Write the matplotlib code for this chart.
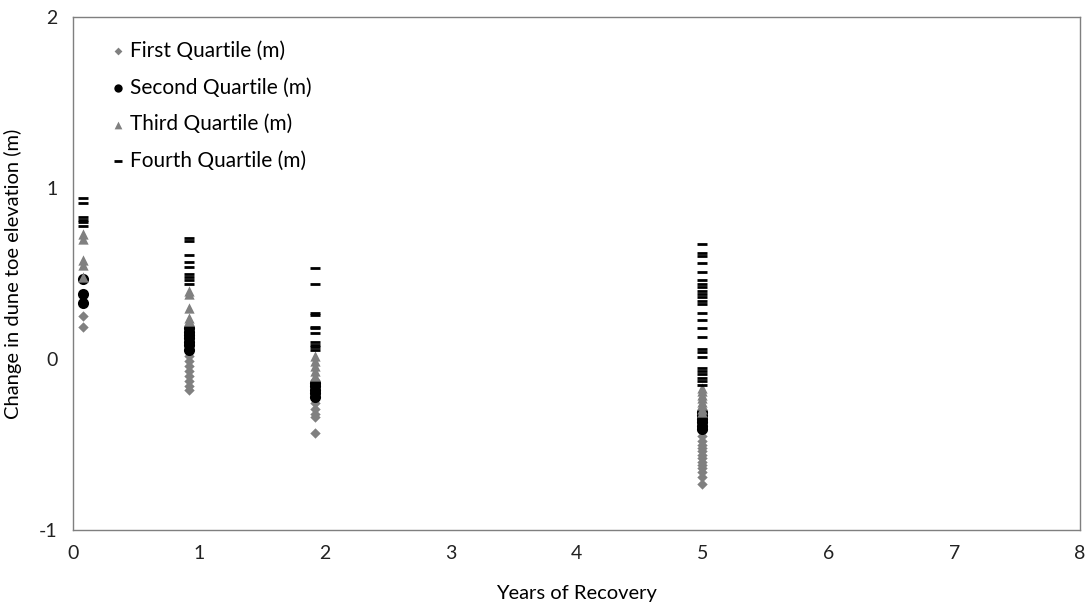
import matplotlib
matplotlib.use("Agg")
import matplotlib.pyplot as plt

plt.rcParams['font.family'] = ['Lato', 'DejaVu Sans']
plt.rcParams['axes.unicode_minus'] = False

# years of recovery for each survey
years = [0.08, 0.92, 1.92, 5.0]

# change in dune toe elevation (m), one list per survey
first_q = [
    [0.25, 0.19],
    [0.02, -0.01, -0.04, -0.07, -0.10, -0.13, -0.16, -0.18],
    [-0.26, -0.29, -0.32, -0.34, -0.43],
    [-0.42, -0.45, -0.48, -0.50, -0.52, -0.54, -0.56, -0.58, -0.60, -0.62,
     -0.64, -0.66, -0.69, -0.73],
]
second_q = [
    [0.47, 0.38, 0.33],
    [0.18, 0.16, 0.14, 0.12, 0.10, 0.08, 0.05],
    [-0.14, -0.16, -0.18, -0.20, -0.22],
    [-0.31, -0.33, -0.35, -0.37, -0.39, -0.41],
]
third_q = [
    [0.73, 0.70, 0.58, 0.55, 0.48],
    [0.40, 0.38, 0.30, 0.24, 0.22],
    [0.02, -0.01, -0.04, -0.07, -0.10],
    [-0.17, -0.19, -0.21, -0.23, -0.25, -0.27, -0.29, -0.31],
]
fourth_q = [
    [0.94, 0.91, 0.83, 0.81, 0.80, 0.78],
    [0.71, 0.69, 0.61, 0.57, 0.54, 0.50, 0.48, 0.46, 0.44],
    [0.53, 0.44, 0.27, 0.26, 0.19, 0.18, 0.15, 0.10, 0.08, 0.07, 0.05],
    [0.67, 0.62, 0.60, 0.56, 0.51, 0.46, 0.44, 0.42, 0.40, 0.38, 0.36, 0.34,
     0.32, 0.27, 0.23, 0.18, 0.13, 0.06, 0.04, 0.01, -0.05, -0.07, -0.09,
     -0.11, -0.13, -0.15],
]

labels = ['First Quartile (m)', 'Second Quartile (m)', 'Third Quartile (m)', 'Fourth Quartile (m)']


def flat(groups):
    xs, ys = [], []
    for x, g in zip(years, groups):
        xs += [x] * len(g)
        ys += g
    return xs, ys


fig = plt.figure(figsize=(10.89, 6.05), dpi=100)
ax = fig.add_axes([73 / 1089, 1 - 530 / 605, (1080 - 73) / 1089, (530 - 17) / 605])

x, y = flat(first_q)
ax.scatter(x, y, marker='D', s=28, color='#808080', linewidths=0, label=labels[0], zorder=3)
x, y = flat(second_q)
ax.scatter(x, y, marker='o', s=64, color='black', linewidths=0, label=labels[1], zorder=3)
x, y = flat(third_q)
ax.scatter(x, y, marker='^', s=55, color='#808080', linewidths=0, label=labels[2], zorder=3)
x, y = flat(fourth_q)
ax.scatter(x, y, marker='_', s=55, color='black', linewidths=2.0, label=labels[3], zorder=3)

ax.set_xlim(0, 8)
ax.set_ylim(-1, 2)
ax.set_xticks(range(0, 9))
ax.set_yticks([-1, 0, 1, 2])
ax.tick_params(length=0, labelsize=14, pad=11, colors='#222222')
for s in ax.spines.values():
    s.set_color('#7f7f7f')
    s.set_linewidth(1)

ax.set_xlabel('Years of Recovery', fontsize=14.5, labelpad=16)
ax.set_ylabel('Change in dune toe elevation (m)', fontsize=14.5, labelpad=12)

leg = ax.legend(loc='upper left', frameon=False, fontsize=15, handletextpad=0.1,
                labelspacing=0.8, bbox_to_anchor=(0.017, 0.99), markerscale=0.75,
                handlelength=0.9)

fig.savefig('out.png', dpi=100)
